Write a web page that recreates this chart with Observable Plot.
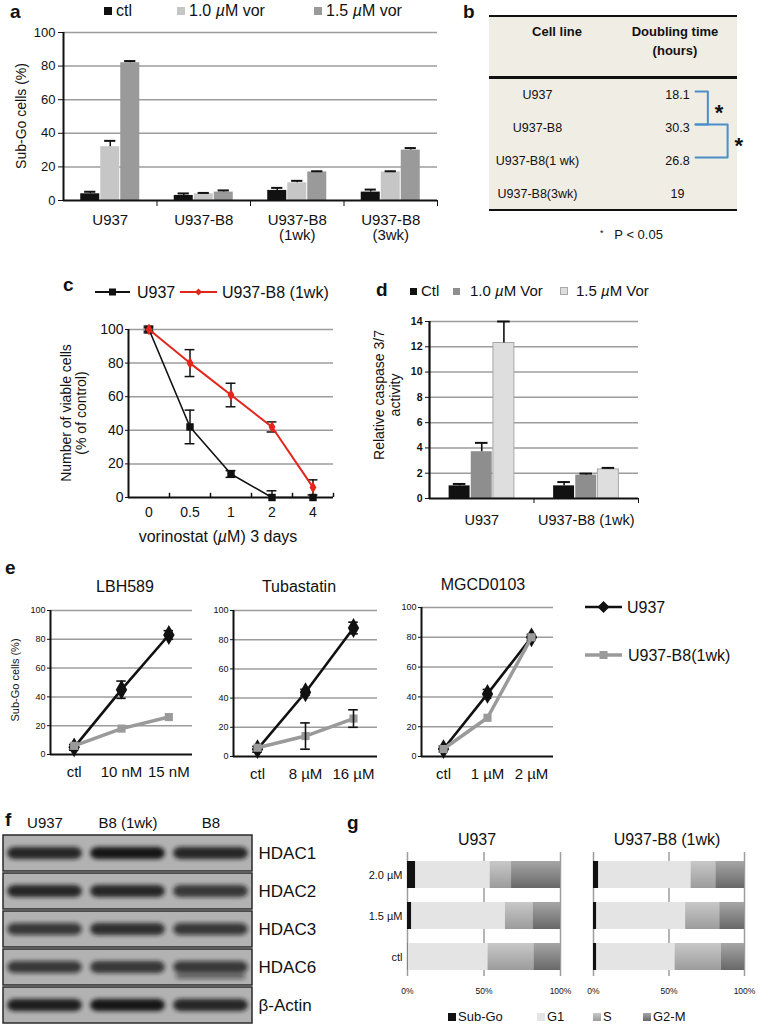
<!DOCTYPE html>
<html><head><meta charset="utf-8">
<script src="https://cdn.jsdelivr.net/npm/d3@7"></script>
<script src="https://cdn.jsdelivr.net/npm/@observablehq/plot@0.6"></script>
<style>
body{margin:0;background:#fff;}
#root{position:relative;width:759px;height:1028px;overflow:hidden;font-family:"Liberation Sans",Arial,Helvetica,sans-serif;color:#111;}
.abs{position:absolute;white-space:nowrap;}
#root svg.plotsvg{position:absolute;}
</style></head>
<body>
<svg width="0" height="0" style="position:absolute"><defs>
<linearGradient id="gradS" x1="0" y1="0" x2="0" y2="1"><stop offset="0" stop-color="#c8c8c8"/><stop offset="1" stop-color="#9c9c9c"/></linearGradient>
<linearGradient id="gradG" x1="0" y1="0" x2="0" y2="1"><stop offset="0" stop-color="#a6a6a6"/><stop offset="1" stop-color="#686868"/></linearGradient>
<filter id="blotBlur" x="-20%" y="-80%" width="140%" height="260%"><feGaussianBlur stdDeviation="2"/></filter>
</defs></svg>
<div id="root"></div>
<script>
// ---------- DATA ----------
// panel a
const aGroups = ["U937", "U937-B8", "U937-B8\n(1wk)", "U937-B8\n(3wk)"];
const aSeries = ["ctl", "1.0 µM vor", "1.5 µM vor"];
const aCtl = [4, 3, 6, 5];
const aCtlErr = [1.2, 1.2, 1.5, 1.5];
const a10 = [32, 4, 10.5, 17];
const a10Err = [3.5, 0.5, 1.2, 0.4];
const a15 = [82, 5, 17, 30];
const a15Err = [1, 1, 0.4, 1.2];
const aTicks = [0, 20, 40, 60, 80, 100];
// panel b
const bCellLines = ["U937", "U937-B8", "U937-B8(1 wk)", "U937-B8(3wk)"];
const bDoubling = ["18.1", "30.3", "26.8", "19"];
const bSigPairs = [[0, 1], [1, 2]];
// panel c
const cDoses = ["0", "0.5", "1", "2", "4"];
const cU937 = [100, 42, 14, 0, 0];
const cU937Err = [2, 10, 2, 4, 0];
const cB8 = [100, 80, 61, 42, 6];
const cB8Err = [1, 8, 7, 3, 4.5];
const cTicks = [0, 20, 40, 60, 80, 100];
// panel d
const dGroups = ["U937", "U937-B8 (1wk)"];
const dSeries = ["Ctl", "1.0 µM Vor", "1.5 µM Vor"];
const dCtl = [1.0, 1.0];
const dCtlErr = [0.15, 0.3];
const d10 = [3.7, 1.85];
const d10Err = [0.7, 0.12];
const d15 = [12.3, 2.3];
const d15Err = [1.7, 0.12];
const dTicks = [0, 2, 4, 6, 8, 10, 12, 14];
// panel e
const eDrugs = ["LBH589", "Tubastatin", "MGCD0103"];
const eDoses = [["ctl", "10 nM", "15 nM"], ["ctl", "8 µM", "16 µM"], ["ctl", "1 µM", "2 µM"]];
const eU937 = [[5, 45, 83], [5, 44, 88], [5, 42, 80]];
const eU937Err = [[2, 6, 3], [2, 2, 4], [2, 3, 2]];
const eB8 = [[6, 18, 26], [6, 14, 26], [5, 26, 80]];
const eB8Err = [[1, 1, 1], [1, 9, 6], [1, 2, 2]];
const eTicks = [0, 20, 40, 60, 80, 100];
// panel f (western blot band intensities, relative)
const fLanes = ["U937", "B8 (1wk)", "B8"];
const fProteins = ["HDAC1", "HDAC2", "HDAC3", "HDAC6", "β-Actin"];
const fHDAC1 = [0.9, 1.0, 0.9];
const fHDAC2 = [0.9, 0.9, 0.8];
const fHDAC3 = [0.75, 0.85, 0.75];
const fHDAC6 = [0.75, 0.8, 0.75];
const fActin = [0.95, 1.0, 0.9];
const fHDAC6Lower = [0, 0, 0.5];
// panel g
const gPhases = ["Sub-Go", "G1", "S", "G2-M"];
const gDoses = ["2.0 µM", "1.5 µM", "ctl"];
const gU937SubGo = [5.4, 2.8, 0.4];
const gU937G1 = [48.6, 61.2, 52.2];
const gU937S = [14, 18, 30];
const gU937G2M = [32, 18, 17.4];
const gB8SubGo = [3.5, 2.2, 2.2];
const gB8G1 = [61.1, 58.8, 51.8];
const gB8S = [16.4, 22.6, 30.5];
const gB8G2M = [19, 16.4, 15.5];
const gTicks = [0, 50, 100];

// ---------- HELPERS ----------
const FONT = '"Liberation Sans", Arial, Helvetica, sans-serif';
const root = document.getElementById("root");
const GRID = "#9c9c9c";
const INK = "#111";
function baseStyle(size) {
  return {fontFamily: FONT, fontSize: size + "px", color: INK, background: "transparent", overflow: "visible"};
}
function place(svg, left, top) {
  svg.classList.add("plotsvg");
  svg.style.position = "absolute";
  svg.style.left = left + "px";
  svg.style.top = top + "px";
  svg.style.maxWidth = "none";
  root.appendChild(svg);
  return svg;
}
function txt(html, x, y, o = {}) {
  const {size = 14, weight = "normal", anchor = "start", rotate = false, lh = 1.15} = o;
  const d = document.createElement("div");
  d.className = "abs";
  d.innerHTML = html;
  d.style.left = x + "px";
  d.style.top = y + "px";
  d.style.fontSize = size + "px";
  d.style.fontWeight = weight;
  d.style.lineHeight = lh;
  const tx = anchor === "middle" ? "-50%" : anchor === "end" ? "-100%" : "0";
  if (rotate) { d.style.transform = "translate(-50%,-50%) rotate(-90deg)"; d.style.textAlign = "center"; }
  else d.style.transform = `translate(${tx},-50%)`;
  root.appendChild(d);
  return d;
}
function swatch(x, y, s, fill, border) {
  const d = document.createElement("div");
  d.className = "abs";
  Object.assign(d.style, {left: x + "px", top: (y - s / 2) + "px", width: s + "px", height: s + "px", background: fill, boxSizing: "border-box", border: border ? "1px solid " + border : "none"});
  root.appendChild(d);
}
function lineLegend(x1, x2, y, stroke, sw, marker) {
  const w = x2 - x1, h = 16;
  const d = document.createElement("div");
  d.className = "abs";
  d.style.left = x1 + "px"; d.style.top = (y - h / 2) + "px";
  d.innerHTML = `<svg width="${w}" height="${h}"><line x1="0" x2="${w}" y1="${h/2}" y2="${h/2}" stroke="${stroke}" stroke-width="${sw}"/>${marker(w / 2, h / 2)}</svg>`;
  root.appendChild(d);
}
const sq = (c, s) => (x, y) => `<rect x="${x - s/2}" y="${y - s/2}" width="${s}" height="${s}" fill="${c}"/>`;
const dia = (c, s) => (x, y) => `<path d="M${x},${y - s}L${x + s},${y}L${x},${y + s}L${x - s},${y}Z" fill="${c}"/>`;

// ---------- PANEL a ----------
const aRows = [];
aGroups.forEach((g, i) => {
  [[aCtl, aCtlErr], [a10, a10Err], [a15, a15Err]].forEach(([v, e], j) => aRows.push({g: i, j, s: aSeries[j], v: v[i], e: e[i]}));
});
const aBW = 0.214;
const aXc = d => d.g + (d.j - 1) * aBW;
place(Plot.plot({
  width: 445, height: 250, marginLeft: 63, marginRight: 8, marginTop: 32, marginBottom: 50,
  style: baseStyle(13),
  x: {domain: [-0.5, aGroups.length - 0.5]}, y: {domain: [0, 100]},
  color: {domain: aSeries, range: ["#111", "#c6c6c6", "#9a9a9a"]},
  marks: [
    Plot.ruleY(aTicks.filter(t => t > 0), {stroke: GRID, strokeWidth: 1.5}),
    Plot.rect(aRows, {x1: d => aXc(d) - aBW / 2, x2: d => aXc(d) + aBW / 2, y1: 0, y2: "v", fill: "s", insetLeft: 0.5, insetRight: 0.5}),
    Plot.ruleX(aRows, {x: aXc, y1: "v", y2: d => d.v + d.e, stroke: INK, strokeWidth: 1.5}),
    Plot.ruleY(aRows, {y: d => d.v + d.e, x1: d => aXc(d) - 0.06, x2: d => aXc(d) + 0.06, stroke: INK, strokeWidth: 2}),
    Plot.ruleX([-0.5], {stroke: INK, strokeWidth: 2}),
    Plot.ruleY([0], {stroke: INK, strokeWidth: 2}),
    Plot.axisY({ticks: aTicks, tickSize: 5, tickPadding: 3, fontSize: 13, label: null}),
    Plot.axisX({ticks: aGroups.map((g, i) => i), tickFormat: i => aGroups[i], tickSize: 0, tickPadding: 14, fontSize: 15, label: null}),
    Plot.axisX({ticks: aGroups.map((g, i) => i + 0.5), tickFormat: () => "", tickSize: 6, label: null})
  ]
}), 0, 0);
txt("a", 10, 12, {size: 19, weight: "bold"});
txt("Sub-Go cells (%)", 21, 116, {size: 14, rotate: true});
[[104, "#111"], [177, "#c6c6c6"], [314, "#9a9a9a"]].forEach(([x, c], i) => {
  swatch(x, 11, 8, c);
  txt(aSeries[i].replace("µ", "<i>µ</i>"), x + 12, 11, {size: 16});
});

// ---------- PANEL b ----------
const bBg = document.createElement("div");
bBg.className = "abs";
Object.assign(bBg.style, {left: "489px", top: "15px", width: "248px", height: "196px", background: "#efede4", borderTop: "2px solid #111", borderBottom: "2.5px solid #111", boxSizing: "border-box"});
root.appendChild(bBg);
const bLine = document.createElement("div");
bLine.className = "abs";
Object.assign(bLine.style, {left: "489px", top: "76px", width: "248px", height: "2.5px", background: "#111"});
root.appendChild(bLine);
txt("b", 463, 12, {size: 19, weight: "bold"});
txt("Cell line", 557, 32, {size: 13, weight: "bold", anchor: "middle"});
txt("Doubling time", 675, 32, {size: 13, weight: "bold", anchor: "middle"});
txt("(hours)", 675, 51, {size: 13, weight: "bold", anchor: "middle"});
txt("<span style='font-size:9px;position:relative;top:-3px'>*</span>&nbsp;&nbsp;&nbsp;P &lt; 0.05", 600, 235, {size: 13});
const bRows = bCellLines.map((c, i) => ({i, line: c, time: bDoubling[i]}));
const bBracketX = [0.88, 0.96];
const bBrackets = [];
bSigPairs.forEach(([a, b], k) => {
  const xr = bBracketX[k];
  [[0.83, a], [xr, a], [xr, b], [0.83, b]].forEach(([x, y]) => bBrackets.push({k, x, y}));
});
place(Plot.plot({
  width: 279, height: 130, marginLeft: 10, marginRight: 22, marginTop: 14, marginBottom: 17,
  style: baseStyle(12.5),
  x: {domain: [0, 1], axis: null}, y: {domain: [0, bCellLines.length - 1], range: [14, 113], axis: null},
  marks: [
    Plot.text(bRows, {x: 0.19, y: "i", text: "line", fontSize: 12.5}),
    Plot.text(bRows, {x: 0.757, y: "i", text: "time", fontSize: 12.5}),
    Plot.line(bBrackets, {x: "x", y: "y", z: "k", stroke: "#4a8fc9", strokeWidth: 2, dy: -3}),
    Plot.text(bSigPairs, {x: (p, k) => bBracketX[k] + 0.045, y: p => (p[0] + p[1]) / 2, text: () => "*", fontSize: 22, fontWeight: "bold", dy: 2})
  ]
}), 480, 80);

// ---------- PANEL c ----------
const cU = cDoses.map((d, i) => ({i, v: cU937[i], e: cU937Err[i]}));
const cB = cDoses.map((d, i) => ({i, v: cB8[i], e: cB8Err[i]}));
const errMarks = (rows, w, stroke, sw) => [
  Plot.ruleX(rows.filter(d => d.e > 0), {x: "i", y1: d => Math.max(0, d.v - d.e), y2: d => d.v + d.e, stroke, strokeWidth: sw}),
  Plot.ruleY(rows.filter(d => d.e > 0), {y: d => d.v + d.e, x1: d => d.i - w, x2: d => d.i + w, stroke, strokeWidth: sw}),
  Plot.ruleY(rows.filter(d => d.e > 0 && d.v - d.e > 0), {y: d => d.v - d.e, x1: d => d.i - w, x2: d => d.i + w, stroke, strokeWidth: sw})
];
place(Plot.plot({
  width: 345, height: 230, marginLeft: 128, marginRight: 12, marginTop: 29, marginBottom: 33,
  style: baseStyle(14),
  x: {domain: [-0.5, cDoses.length - 0.5]}, y: {domain: [0, 100]},
  marks: [
    Plot.ruleY(cTicks.filter(t => t > 0), {stroke: GRID, strokeWidth: 1.5}),
    ...errMarks(cU, 0.12, INK, 1.5),
    Plot.line(cU, {x: "i", y: "v", stroke: INK, strokeWidth: 1.6}),
    Plot.dot(cU, {x: "i", y: "v", symbol: "square", r: 4.2, fill: INK}),
    ...errMarks(cB, 0.12, INK, 1.5),
    Plot.line(cB, {x: "i", y: "v", stroke: "#e3261c", strokeWidth: 2}),
    Plot.dot(cB, {x: "i", y: "v", symbol: "diamond", r: 3.6, fill: "#e3261c"}),
    Plot.ruleX([-0.5], {stroke: INK, strokeWidth: 2}),
    Plot.ruleY([0], {stroke: INK, strokeWidth: 2}),
    Plot.ruleX(cDoses.map((d, i) => i + 0.5), {y1: 0, y2: 2.5, stroke: INK, strokeWidth: 1.5}),
    Plot.axisY({ticks: cTicks, tickSize: 3, tickPadding: 2, fontSize: 14, label: null}),
    Plot.axisX({ticks: cDoses.map((d, i) => i), tickFormat: i => cDoses[i], tickSize: 0, tickPadding: 10, fontSize: 14, label: null})
  ]
}), 0, 300);
txt("c", 63, 285, {size: 19, weight: "bold"});
lineLegend(95, 130, 292, INK, 2, sq(INK, 7));
txt("U937", 137, 293, {size: 16});
lineLegend(180, 217, 292, "#e3261c", 2, dia("#e3261c", 3.5));
txt("U937-B8 (1wk)", 222, 293, {size: 16});
txt("Number of viable cells<br>(% of control)", 74, 413, {size: 14, rotate: true, lh: 1.1});
txt("vorinostat (<i>µ</i>M) 3 days", 218, 537, {size: 16, anchor: "middle"});

// ---------- PANEL d ----------
const dRows = [];
dGroups.forEach((g, i) => {
  [[dCtl, dCtlErr], [d10, d10Err], [d15, d15Err]].forEach(([v, e], j) => dRows.push({g: i, j, s: dSeries[j], v: v[i], e: e[i]}));
});
const dBW = 0.212;
const dXc = d => d.g + (d.j - 1) * dBW;
place(Plot.plot({
  width: 278, height: 230, marginLeft: 59, marginRight: 10, marginTop: 21, marginBottom: 32,
  style: baseStyle(11),
  x: {domain: [-0.5, dGroups.length - 0.5]}, y: {domain: [0, 14]},
  color: {domain: dSeries, range: ["#111", "#8e8e8e", "#dedede"]},
  marks: [
    Plot.ruleY(dTicks.filter(t => t > 0), {stroke: GRID, strokeWidth: 1.5}),
    Plot.rect(dRows, {x1: d => dXc(d) - dBW / 2, x2: d => dXc(d) + dBW / 2, y1: 0, y2: "v", fill: "s", stroke: d => d.j === 2 ? "#a8a8a8" : "none", insetLeft: 0.6, insetRight: 0.6}),
    Plot.ruleX(dRows, {x: dXc, y1: "v", y2: d => d.v + d.e, stroke: INK, strokeWidth: 1.6}),
    Plot.ruleY(dRows, {y: d => d.v + d.e, x1: d => dXc(d) - 0.06, x2: d => dXc(d) + 0.06, stroke: INK, strokeWidth: 2}),
    Plot.ruleX([-0.5], {stroke: INK, strokeWidth: 2.2}),
    Plot.ruleY([0], {stroke: INK, strokeWidth: 2.2}),
    Plot.axisY({ticks: dTicks, tickSize: 4, tickPadding: 3, fontSize: 10.5, fontWeight: "bold", label: null}),
    Plot.axisX({ticks: dGroups.map((g, i) => i), tickFormat: i => dGroups[i], tickSize: 0, tickPadding: 16, fontSize: 14.5, label: null}),
    Plot.axisX({ticks: dGroups.map((g, i) => i + 0.5), tickFormat: () => "", tickSize: 5, label: null})
  ]
}), 370, 300);
txt("d", 376, 290, {size: 19, weight: "bold"});
swatch(410, 291, 7, "#111");
txt("Ctl", 421, 291, {size: 15});
swatch(453, 291, 7, "#8e8e8e");
txt("1.0 <i>µ</i>M Vor", 470, 291, {size: 15});
swatch(560, 291, 8, "#dedede", "#a8a8a8");
txt("1.5 <i>µ</i>M Vor", 576, 291, {size: 15});
txt("Relative caspase 3/7<br>activity", 387, 395, {size: 14, rotate: true, lh: 1.15});

// ---------- PANEL e ----------
const eLayout = [
  {left: 0, width: 200, mL: 50, mR: 8, mT: 10, mB: 36},
  {left: 190, width: 195, mL: 43, mR: 8, mT: 10, mB: 34},
  {left: 380, width: 180, mL: 41, mR: 7, mT: 7, mB: 34}
];
eDrugs.forEach((drug, k) => {
  const L = eLayout[k];
  const U = eDoses[k].map((d, i) => ({i, v: eU937[k][i], e: eU937Err[k][i]}));
  const B = eDoses[k].map((d, i) => ({i, v: eB8[k][i], e: eB8Err[k][i]}));
  place(Plot.plot({
    width: L.width, height: 190, marginLeft: L.mL, marginRight: L.mR, marginTop: L.mT, marginBottom: L.mB,
    style: baseStyle(9),
    x: {domain: [-0.5, eDoses[k].length - 0.5]}, y: {domain: [0, 100]},
    marks: [
      Plot.ruleY(eTicks.filter(t => t > 0), {stroke: GRID, strokeWidth: 1.5}),
      Plot.line(U, {x: "i", y: "v", stroke: INK, strokeWidth: 2.6}),
      Plot.dot(U, {x: "i", y: "v", symbol: "diamond", r: 6, fill: INK}),
      ...errMarks(U, 0.1, INK, 1.6),
      Plot.line(B, {x: "i", y: "v", stroke: "#9a9a9a", strokeWidth: 3.5}),
      Plot.dot(B, {x: "i", y: "v", symbol: "square", r: 4.6, fill: "#9a9a9a"}),
      ...errMarks(B.filter(d => d.e > 2), 0.1, INK, 1.6),
      Plot.ruleX([-0.5], {stroke: INK, strokeWidth: 2}),
      Plot.ruleY([0], {stroke: INK, strokeWidth: 2}),
      Plot.axisY({ticks: eTicks, tickSize: 3, tickPadding: 2, fontSize: 9, label: null}),
      Plot.axisX({ticks: eDoses[k].map((d, i) => i), tickFormat: i => eDoses[k][i], tickSize: 0, tickPadding: 12, fontSize: 15, label: null})
    ]
  }), L.left, 600);
});
txt("e", 5, 568, {size: 19, weight: "bold"});
txt(eDrugs[0], 125, 587, {size: 16, anchor: "middle"});
txt(eDrugs[1], 299, 587, {size: 16, anchor: "middle"});
txt(eDrugs[2], 483, 585, {size: 16, anchor: "middle"});
txt("Sub-Go cells (%)", 15, 680, {size: 11, rotate: true});
lineLegend(585, 622, 607, INK, 2.6, dia(INK, 6));
txt("U937", 627, 608, {size: 16});
lineLegend(585, 622, 655, "#9a9a9a", 3.5, sq("#9a9a9a", 8));
txt("U937-B8(1wk)", 628, 656, {size: 16});

// ---------- PANEL f ----------
const fIntensity = [fHDAC1, fHDAC2, fHDAC3, fHDAC6, fActin];
const fBands = [];
fProteins.forEach((p, r) => fLanes.forEach((l, i) => fBands.push({p, i, v: fIntensity[r][i]})));
const fLower = fLanes.map((l, i) => ({p: "HDAC6", i, v: fHDAC6Lower[i]})).filter(d => d.v > 0);
const fPlot = Plot.plot({
  width: 330, height: 228, marginLeft: 3, marginRight: 78, marginTop: 33, marginBottom: 3,
  style: baseStyle(15),
  x: {domain: [-0.5, fLanes.length - 0.5]},
  y: {type: "band", domain: fProteins, paddingInner: 0.05, paddingOuter: 0},
  opacity: {type: "identity"},
  marks: [
    Plot.barX(fProteins, {y: d => d, x1: -0.5, x2: fLanes.length - 0.5, fill: "#b2b2b2", stroke: "#2a2a2a", strokeWidth: 1.5}),
    Plot.barX(fBands, {y: "p", x1: d => d.i - 0.45, x2: d => d.i + 0.45, fill: "#151515", fillOpacity: "v", insetTop: 12, insetBottom: 12, rx: 7}),
    Plot.barX(fLower, {y: "p", x1: d => d.i - 0.42, x2: d => d.i + 0.42, fill: "#151515", fillOpacity: "v", insetTop: 15, insetBottom: 15, rx: 4, dy: 9}),
    Plot.axisY({anchor: "right", tickSize: 0, tickPadding: 6, fontSize: 17, label: null}),
    Plot.axisX({anchor: "top", ticks: fLanes.map((l, i) => i), tickFormat: i => fLanes[i], tickSize: 0, tickPadding: 6, fontSize: 15, label: null})
  ]
});
d3.select(fPlot).selectAll('g[fill="#151515"], rect[fill="#151515"]').attr("filter", "url(#blotBlur)");
place(fPlot, 0, 800);
txt("f", 5, 820, {size: 19, weight: "bold"});

// ---------- PANEL g ----------
function gRows(sub, g1, s, g2m) {
  const rows = [];
  gDoses.forEach((d, i) => [sub, g1, s, g2m].forEach((arr, j) => rows.push({dose: d, phase: gPhases[j], v: arr[i]})));
  return rows;
}
const gColor = {domain: gPhases, range: ["#111", "#e4e4e4", "url(#gradS)", "url(#gradG)"]};
function gPlot(rows, left, width, mL, mR, showY) {
  return place(Plot.plot({
    width, height: 170, marginLeft: mL, marginRight: mR, marginTop: 21, marginBottom: 29,
    style: baseStyle(9),
    x: {domain: [0, 100]},
    y: {type: "band", domain: gDoses, paddingInner: 0.33, paddingOuter: 0.1, axis: showY ? undefined : null},
    color: gColor,
    marks: [
      Plot.ruleX(gTicks, {stroke: GRID, strokeWidth: 1.5, insetTop: -4}),
      Plot.barX(rows, {x: "v", y: "dose", fill: "phase"}),
      Plot.axisX({ticks: gTicks, tickFormat: d => d + "%", tickSize: 0, tickPadding: 11, fontSize: 8.5, label: null}),
      showY ? Plot.axisY({tickSize: 0, tickPadding: 5, fontSize: 11, label: null}) : null
    ]
  }), left, 835);
}
gPlot(gRows(gU937SubGo, gU937G1, gU937S, gU937G2M), 350, 225, 57, 15, true);
gPlot(gRows(gB8SubGo, gB8G1, gB8S, gB8G2M), 580, 175, 13, 11, false);
txt("g", 347, 823, {size: 19, weight: "bold"});
txt("U937", 477, 840, {size: 16, anchor: "middle"});
txt("U937-B8 (1wk)", 667, 840, {size: 16, anchor: "middle"});
[[448, "#111"], [537, "#e4e4e4"], [593, "url(#gradS)"], [643, "url(#gradG)"]].forEach(([x, c], i) => {
  const s = document.createElement("div");
  s.className = "abs";
  s.style.left = x + "px"; s.style.top = "1013px";
  s.style.lineHeight = "0";
  s.innerHTML = `<svg width="8" height="8" style="display:block"><rect width="8" height="8" fill="${c}"/></svg>`;
  root.appendChild(s);
  txt(gPhases[i], x + 10, 1017, {size: 13});
});
</script>
</body></html>
